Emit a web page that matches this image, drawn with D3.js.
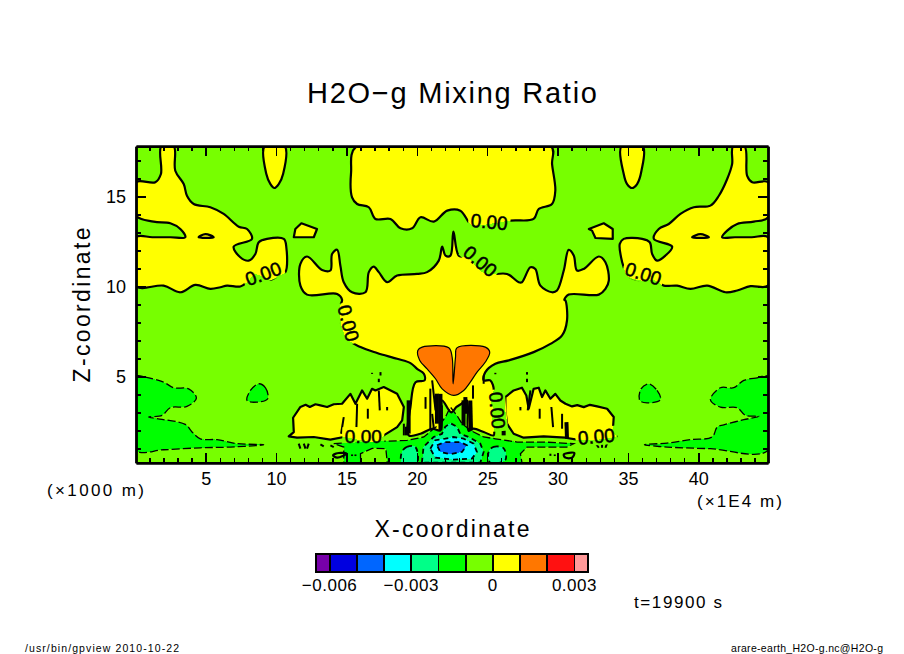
<!DOCTYPE html>
<html>
<head>
<meta charset="utf-8">
<script src="https://cdn.jsdelivr.net/npm/d3@7"></script>
<style>
  html, body { margin: 0; background: #fff; }
  svg { display: block; }
  text { font-family: "Liberation Sans", sans-serif; fill: #000; }
</style>
</head>
<body>
<svg id="chart" width="904" height="654"></svg>
<script>
// contour outlines: [x (1E4 m), z (1000 m)]
const yellowLeft = [[1.85,17.8],[1.82,16.26],[1.42,15.8],[0.05,15.8],[0.05,13.94],[1.3,13.61],[2.49,13.52],[3.2,13.2],[3.55,12.74],[2.5,12.74],[1.2,12.74],[0.05,12.74],[0.05,10.02],[2.01,10.05],[3.2,9.68],[4.27,10.09],[5.33,9.87],[6.04,9.96],[6.52,10.05],[7.46,10.0],[7.94,10.24],[8.53,10.67],[9.6,10.37],[10.19,10.61],[10.66,10.8],[10.73,12.18],[10.55,12.65],[9.36,12.65],[8.77,12.46],[8.53,11.81],[8.06,11.44],[7.46,11.63],[6.99,12.22],[8.29,12.65],[7.94,13.2],[7.35,13.33],[6.28,14.04],[5.33,14.41],[4.15,14.59],[3.67,15.05],[3.44,15.7],[2.84,16.44],[2.73,17.8]];
const yellowRight = [[42.47,17.8],[42.4,16.81],[42.05,15.98],[41.46,15.05],[40.86,14.5],[39.68,14.41],[38.73,14.04],[37.9,13.48],[37.19,13.2],[36.84,12.65],[38.14,12.22],[37.66,11.72],[37.07,11.44],[36.72,11.81],[36.55,12.46],[36.01,12.65],[34.7,12.65],[34.42,12.37],[34.51,11.63],[34.7,11.07],[34.94,10.61],[35.41,10.42],[36.0,10.33],[36.95,10.33],[37.55,10.05],[38.49,10.05],[39.44,9.87],[40.63,10.05],[41.93,9.68],[42.76,9.78],[43.71,10.02],[44.95,10.05],[44.95,12.74],[43.8,12.74],[42.6,12.74],[41.69,12.74],[42.05,13.11],[42.76,13.48],[43.94,13.61],[44.95,13.85],[44.95,15.8],[43.83,15.8],[43.47,16.16],[43.28,17.8]];
const tongueLeft = [[9.19,17.8],[9.31,16.26],[9.6,15.7],[9.88,15.48],[10.19,15.7],[10.5,16.26],[10.62,17.8]];
const tongueRight = [[34.54,17.8],[34.7,16.26],[34.94,15.7],[35.29,15.48],[35.65,15.7],[35.96,16.44],[36.05,17.8]];
const diamondLeft = [[11.8,13.52],[12.91,13.2],[12.68,12.74],[11.26,12.74],[11.37,13.2]];
const diamondRight = [[32.22,13.2],[33.28,13.52],[33.92,13.2],[33.92,12.65],[32.69,12.7],[32.45,13.11]];
const yellowTop = [[15.71,17.8],[15.33,16.35],[15.4,14.96],[15.76,14.59],[16.59,14.41],[17.06,13.76],[18.13,13.76],[18.84,13.24],[19.67,13.24],[20.26,13.85],[21.21,13.61],[22.16,14.22],[23.09,14.22],[23.8,13.48],[24.16,13.39],[26.65,13.67],[28.3,13.76],[28.66,14.31],[29.6,14.59],[29.84,15.33],[29.61,16.81],[29.54,17.8]];
const yellowCentre = [[19.43,1.72],[19.55,3.3],[19.91,4.68],[20.55,4.78],[20.5,5.15],[20.02,5.42],[19.55,5.74],[18.6,5.98],[17.18,6.3],[16,6.63],[15.05,7.09],[14.62,7.92],[14.57,8.94],[14.69,9.26],[14.34,9.59],[12.2,9.55],[11.73,10.05],[11.73,11.26],[12.2,11.67],[13.27,10.92],[13.86,10.89],[13.98,11.81],[14.34,12.05],[14.57,11.16],[14.81,10.24],[15.4,9.68],[16.35,9.68],[16.59,10.8],[16.94,11.11],[17.3,10.8],[17.89,10.24],[18.6,10.61],[20.02,10.7],[20.73,10.8],[21.56,11.44],[21.8,12.22],[22.04,11.72],[22.39,11.72],[22.6,13.05],[22.98,11.72],[23.56,11.63],[24.16,11.17],[24.87,10.7],[26.41,10.7],[27.24,10.24],[27.47,10.24],[28.07,11.07],[28.42,10.98],[28.78,10.05],[29.61,9.68],[29.96,9.78],[30.44,10.89],[30.79,12.04],[31.15,11.72],[31.38,10.89],[31.86,10.98],[32.93,11.67],[33.4,11.35],[33.64,10.33],[33.4,9.87],[32.93,9.55],[30.79,9.55],[30.48,9.26],[30.56,9.22],[30.67,8.11],[30.32,7.28],[29.49,6.81],[28.3,6.35],[26.53,5.89],[25.58,5.7],[24.87,5.24],[24.75,4.78],[25.22,4.78],[25.46,4.22],[25.18,3.85],[25.46,3.11],[25.34,2.83],[25.46,2.18],[25.46,1.72],[24.75,1.91],[24.04,2.09],[23.68,1.98],[23.56,3.66],[23.1,3.44],[22.82,3.3],[22.44,3.0],[21.8,3.66],[21.68,2.0],[21.09,2.09],[20.26,1.81]];
const yellowLowLeft = [[10.9,1.66],[11.26,1.9],[11.21,2.7],[11.73,3.3],[12.1,3.42],[12.4,3.3],[12.8,3.45],[13.15,3.39],[13.63,3.3],[14.1,3.45],[14.69,3.48],[15.28,4.03],[15.64,3.48],[15.88,3.85],[16.11,4.22],[16.47,3.76],[16.82,4.31],[17.06,4.22],[17.65,4.41],[18.6,4.03],[19.08,3.3],[18.96,2.55],[18.6,2.18],[17.65,1.72],[17.42,1.44],[16.71,1.35],[14.81,1.63],[13.86,1.48],[12.68,1.63],[11.49,1.59]];
const yellowLowRight = [[26.29,3.85],[26.88,4.22],[27.47,4.37],[27.78,3.94],[27.95,3.2],[28.3,4.31],[28.66,4.37],[28.9,3.85],[29.13,4.22],[29.49,3.76],[29.84,4.03],[30.2,3.66],[30.56,3.48],[31.03,3.33],[31.4,3.4],[31.86,3.29],[32.3,3.42],[32.81,3.33],[33.52,3.2],[33.99,2.74],[33.92,1.91],[34.2,1.66],[33.4,1.53],[32.81,1.48],[31.38,1.48],[30.56,1.59],[29.01,1.66],[27.59,1.59],[26.88,1.81],[26.41,2.37],[26.29,3.11]];
const orangeLobes = [[20.07,6.44],[20.38,6.63],[22.27,6.59],[22.51,6.07],[22.58,4.59],[22.75,6.07],[22.85,6.59],[24.87,6.63],[25.18,6.35],[24.87,5.8],[24.28,5.24],[23.8,4.68],[23.33,4.22],[22.62,3.94],[21.8,4.31],[21.33,4.87],[20.73,5.42],[20.21,5.89]];
const greenLeft = [[0.05,5.0],[0.71,4.96],[2.01,4.68],[2.73,4.37],[3.79,4.31],[4.34,3.79],[3.67,3.33],[2.49,3.26],[1.9,2.83],[0.95,2.74],[1.54,2.65],[3.55,2.33],[4.03,1.91],[4.62,1.53],[5.81,1.48],[7.23,1.26],[9.12,1.2],[6.75,1.07],[4.62,1.03],[2.01,0.92],[0.05,0.89]];
const greenRight = [[44.95,5.0],[44.18,4.92],[43.23,4.78],[42.52,4.37],[41.57,4.37],[40.86,3.7],[41.57,3.29],[42.76,3.26],[43.35,2.83],[44.3,2.78],[43.23,2.59],[41.81,2.31],[41.34,2.18],[40.98,1.63],[39.44,1.48],[37.78,1.29],[36.17,1.2],[37.78,1.07],[40.86,0.98],[44.95,0.89]];
const greenBlobLeft = [[8.77,4.59],[9.24,4.37],[9.41,3.76],[8.65,3.57],[7.94,3.66],[8.18,4.22]];
const greenBlobRight = [[36.48,4.59],[37.07,4.22],[37.31,3.7],[36.36,3.53],[35.84,3.66],[35.93,4.31]];
const greenBottom = [[14.1,1.26],[16.23,1.35],[19.31,1.44],[20.5,1.63],[21.2,2.09],[21.68,2.37],[22.04,2.74],[22.38,3.3],[22.85,2.83],[23.21,2.37],[23.8,2.0],[24.75,1.63],[25.58,1.53],[27.12,1.35],[29.01,1.35],[31.15,1.26],[30.67,1.07],[27.83,1.07],[27.36,0.7],[27.47,0.2],[17.9,0.2],[17.8,0.98],[16.83,1.0],[16,0.7],[16,0.2],[14.81,0.2],[14.81,1.07]];
const springCentre = [[20.36,0.2],[20.48,1.08],[21.19,1.63],[21.78,1.8],[22.02,2.2],[22.38,2.4],[22.85,2.2],[23.09,1.8],[23.68,1.63],[24.51,1.26],[24.75,0.8],[24.51,0.2]];
const springLeft = [[18.94,0.8],[19.3,1.08],[19.89,1.08],[20.01,0.2],[18.94,0.2]];
const springRight = [[25.1,0.8],[25.46,1.08],[26.17,1.0],[26.29,0.35],[25.22,0.2]];
const cyanCentre = [[20.96,0.98],[21.31,1.45],[22.02,1.54],[22.61,1.63],[23.32,1.54],[24.04,1.26],[24.27,0.8],[23.92,0.43],[22.61,0.37],[21.31,0.48]];
const blueCentre = [[21.43,1.17],[22.02,1.35],[23.09,1.35],[23.56,1.17],[23.21,0.8],[22.38,0.67],[21.67,0.8]];
const eyeLeft = [[14.05,0.61],[14.45,0.74],[15,0.7],[14.34,0.48]];
const eyeRight = [[30.44,0.66],[31.19,0.74],[31.03,0.48],[30.56,0.48]];
const smallEyeLeft = [[4.5,12.74],[4.98,12.92],[5.57,12.74]];
const smallEyeRight = [[39.56,12.74],[40.15,12.92],[40.75,12.74]];

// thin stripes and specks in the lower layer
const stripes = [
  [[15.76,3.48],[15.71,2.18]], [[14.81,2.74],[14.62,1.81]], [[17.3,4.22],[17.37,3.11]],
  [[16.52,3.2],[16.52,2.65]], [[17.89,3.3],[17.89,3.11]], [[19.08,2.37],[19.08,1.72]],
  [[20.62,3.85],[20.62,3.2]], [[21.09,4.78],[21.33,3.11]], [[21.09,2.92],[21.21,2.09]],
  [[23.99,4.5],[23.99,3.76]], [[24.75,5.05],[24.75,4.59]], [[27.36,3.3],[27.36,3.11]],
  [[28.73,3.2],[28.73,2.65]], [[29.56,3.3],[29.68,2.18]], [[30.32,2.92],[30.32,2.09]],
  [[28.07,4.22],[27.88,3.11]], [[15.4,0.66],[15.4,0.57]], [[15.64,0.66],[15.64,0.57]],
  [[29.49,0.7],[29.49,0.58]], [[29.8,0.66],[29.8,0.57]],
  [[11.61,1.26],[11.73,0.98]], [[11.97,1.26],[12.09,0.98]], [[12.32,1.26],[12.2,0.98]],
  [[13.15,1.22],[13.39,1.11]], [[13.86,1.17],[14.1,1.07]],
  [[32.69,1.29],[32.93,1.03]], [[33.16,1.29],[33.16,1.03]], [[33.52,1.29],[33.4,1.03]],
  [[16.82,5.2],[16.82,5.14]], [[17.42,5.24],[17.42,5.05]], [[17.3,4.87],[17.3,4.68]],
  [[25.58,5.2],[25.58,5.12]], [[27.83,5.24],[27.83,5.1]], [[27.83,4.87],[27.83,4.68]],
  [[21.78,3.39],[21.78,2.46]], [[20.96,4.32],[20.96,2.0]]
];
const thickStripes = [
  [[21.68,4.03],[21.68,2.0]], [[23.45,3.85],[23.45,2.92]], [[23.8,3.66],[23.85,2.0]],
  [[26.17,2.55],[26.17,1.72]], [[30.63,2.46],[30.67,1.53]], [[19.3,2.2],[19.3,1.72]],
  [[21.43,4.04],[21.43,2.37]], [[23.32,3.67],[23.32,2.28]], [[19.42,3.67],[19.42,1.82]]
];

const labelText = "0.00";
// x, z, angle of each contour label
const contourLabels = [
  [9.09,10.72,-20], [25.15,13.61,5], [24.51,11.41,40], [36.1,10.72,18],
  [15.15,7.96,75], [16.2,1.67,0], [25.72,3.11,85], [32.75,1.67,-5]
];

const majorX = [5,10,15,20,25,30,35,40];
const minorX = d3.range(1, 45);
const majorZ = [5,10,15];
const minorZ = d3.range(1, 18);

const legendEdges = [-0.0065,-0.006,-0.005,-0.004,-0.003,-0.002,-0.001,0,0.001,0.002,0.003,0.0035];
const legendColors = ["#7700aa","#0000e0","#0066ff","#00ffff","#00ff88","#00ff00","#77ff00","#ffff00","#ff7700","#ff1111","#ff9999"];
const legendTicks = [-0.006,-0.003,0,0.003];
const legendTickLabels = ["−0.006","−0.003","0","0.003"];

const lime = "#77ff00", green = "#00ff00", spring = "#00ff88", cyan = "#00ffff", blue = "#0066ff", yellow = "#ffff00", orange = "#ff7700";

const svg = d3.select("#chart");
const xScale = d3.scaleLinear().domain([0.05, 44.95]).range([136, 768]);
const yScale = d3.scaleLinear().domain([0.2, 17.8]).range([462.7, 146.3]);
const [plotLeft, plotRight] = xScale.range();
const [plotBottom, plotTop] = yScale.range();
const plotW = plotRight - plotLeft;
const plotH = plotBottom - plotTop;

const outline = d3.line().x((d) => xScale(d[0])).y((d) => yScale(d[1]));
const closed = (pts) => outline(pts) + "Z";
const smooth = d3.line().x((d) => xScale(d[0])).y((d) => yScale(d[1])).curve(d3.curveCatmullRomClosed.alpha(0.5));

// jagged shapes stay straight-edged, the rest get rounded
const jagged = [diamondLeft, diamondRight, yellowLowLeft, yellowLowRight, springCentre, cyanCentre, blueCentre, greenBottom];
const shape = (pts) => (jagged.includes(pts) ? closed(pts) : smooth(pts));

const defs = svg.append("defs");
defs.append("clipPath").attr("id", "plot-clip").append("rect")
  .attr("x", plotLeft).attr("y", plotTop)
  .attr("width", plotW).attr("height", plotH);

// contour lines break around their labels
const gapMask = defs.append("mask").attr("id", "label-gaps")
  .attr("maskUnits", "userSpaceOnUse")
  .attr("x", 0).attr("y", 0).attr("width", 904).attr("height", 654);
gapMask.append("rect").attr("width", 904).attr("height", 654).attr("fill", "#fff");
gapMask.selectAll("rect.gap").data(contourLabels).join("rect")
  .attr("class", "gap")
  .attr("x", -21).attr("y", -9).attr("width", 42).attr("height", 18)
  .attr("fill", "#000")
  .attr("transform", (d) => `translate(${xScale(d[0])},${yScale(d[1])}) rotate(${d[2]})`);

const plot = svg.append("g").attr("clip-path", "url(#plot-clip)");
plot.append("rect")
  .attr("x", plotLeft).attr("y", plotTop)
  .attr("width", plotW).attr("height", plotH)
  .attr("fill", lime);

const fills = [
  [greenLeft, green], [greenRight, green], [greenBlobLeft, green], [greenBlobRight, green], [greenBottom, green],
  [springCentre, spring], [springLeft, spring], [springRight, spring],
  [cyanCentre, cyan], [blueCentre, blue],
  [yellowLeft, yellow], [yellowRight, yellow], [tongueLeft, yellow], [tongueRight, yellow],
  [diamondLeft, yellow], [diamondRight, yellow], [yellowTop, yellow], [yellowCentre, yellow],
  [yellowLowLeft, yellow], [yellowLowRight, yellow], [orangeLobes, orange]
];
plot.append("g").selectAll("path").data(fills).join("path")
  .attr("d", (d) => shape(d[0]))
  .attr("fill", (d) => d[1])
  .attr("shape-rendering", "crispEdges");

const lines = plot.append("g").attr("mask", "url(#label-gaps)").attr("fill", "none").attr("stroke", "#000");

// zero contour: solid and heavy
lines.append("g").attr("stroke-width", 2.2).attr("stroke-linejoin", "round")
  .selectAll("path")
  .data([yellowLeft, yellowRight, tongueLeft, tongueRight, diamondLeft, diamondRight, yellowTop, yellowCentre, yellowLowLeft, yellowLowRight, eyeLeft, eyeRight, smallEyeLeft, smallEyeRight])
  .join("path").attr("d", shape);

// positive contour: solid and thin
lines.append("path").attr("d", shape(orangeLobes)).attr("stroke-width", 1.2);

// negative contours: dashed
lines.append("g").attr("stroke-width", 1.3).attr("stroke-dasharray", "8,3")
  .selectAll("path")
  .data([greenLeft, greenRight, greenBlobLeft, greenBlobRight, greenBottom])
  .join("path").attr("d", shape);
lines.append("g").attr("stroke-width", 1.8).attr("stroke-dasharray", "5,4")
  .selectAll("path")
  .data([springCentre, springLeft, springRight, cyanCentre, blueCentre])
  .join("path").attr("d", shape);

lines.append("g").attr("stroke-width", 2).selectAll("path").data(stripes).join("path").attr("d", outline);
lines.append("g").attr("stroke-width", 4).selectAll("path").data(thickStripes).join("path").attr("d", outline);

svg.append("g").selectAll("text").data(contourLabels).join("text")
  .attr("transform", (d) => `translate(${xScale(d[0])},${yScale(d[1])}) rotate(${d[2]})`)
  .attr("text-anchor", "middle").attr("dy", "0.36em")
  .attr("font-size", 19).attr("textLength", 37)
  .attr("stroke", "#000").attr("stroke-width", 0.5)
  .text(labelText);

// Axes, all four sides, ticks pointing inward
const styleAxis = (g, labelled) => {
  g.select(".domain").attr("stroke-width", 2.4);
  g.selectAll(".tick line").attr("stroke-width", 1.4).attr("shape-rendering", "crispEdges");
  g.selectAll("text").attr("font-size", labelled ? 18 : 0);
};
const drawAxis = (axisFn, scale, minor, major, translate, labelled) => {
  svg.append("g").attr("transform", translate)
    .call(axisFn(scale).tickValues(minor).tickSize(-5).tickSizeOuter(0).tickFormat(""))
    .call((g) => styleAxis(g, false));
  svg.append("g").attr("transform", translate)
    .call(axisFn(scale).tickValues(major).tickSize(-10).tickSizeOuter(0).tickPadding(labelled ? 10 : 0).tickFormat(labelled ? d3.format("d") : ""))
    .call((g) => styleAxis(g, labelled));
};
drawAxis(d3.axisBottom, xScale, minorX, majorX, `translate(0,${plotBottom})`, true);
drawAxis(d3.axisTop, xScale, minorX, majorX, `translate(0,${plotTop})`, false);
drawAxis(d3.axisLeft, yScale, minorZ, majorZ, `translate(${plotLeft},0)`, true);
drawAxis(d3.axisRight, yScale, minorZ, majorZ, `translate(${plotRight},0)`, false);

// Titles and notes
const addText = (str, x, y, size, width, rotate) => {
  const t = svg.append("text")
    .attr("text-anchor", "middle")
    .attr("font-size", size)
    .attr("textLength", width)
    .attr("lengthAdjust", "spacing")
    .text(str);
  if (rotate) t.attr("transform", `translate(${x},${y}) rotate(${rotate})`);
  else t.attr("x", x).attr("y", y);
  return t;
};
addText("H2O−g Mixing Ratio", 452, 103, 29, 290);
addText("X-coordinate", 452, 537, 23, 155);
addText("Z-coordinate", 90, 305, 23, 155, -90);
addText("(×1000 m)", 95.5, 496, 17, 97);
addText("(×1E4 m)", 739.5, 507, 17, 85);
addText("t=19900 s", 678, 608, 17, 88);
addText("/usr/bin/gpview  2010-10-22", 102, 652, 10.5, 154);
addText("arare-earth_H2O-g.nc@H2O-g", 807, 652, 10.5, 152);

// Colour legend
const legendScale = d3.scaleLinear().domain([-0.0065, 0.0035]).range([316, 588]);
const legend = svg.append("g");
legend.selectAll("rect").data(legendColors).join("rect")
  .attr("x", (d, i) => legendScale(legendEdges[i]))
  .attr("width", (d, i) => legendScale(legendEdges[i + 1]) - legendScale(legendEdges[i]))
  .attr("y", 554).attr("height", 18)
  .attr("fill", (d) => d)
  .attr("stroke", "#000").attr("stroke-width", 1.8)
  .attr("shape-rendering", "crispEdges");
legend.selectAll("text").data(legendTicks).join("text")
  .attr("x", (d) => legendScale(d))
  .attr("y", 591)
  .attr("text-anchor", "middle")
  .attr("font-size", 17)
  .attr("letter-spacing", 0.5)
  .text((d, i) => legendTickLabels[i]);
</script>
</body>
</html>
